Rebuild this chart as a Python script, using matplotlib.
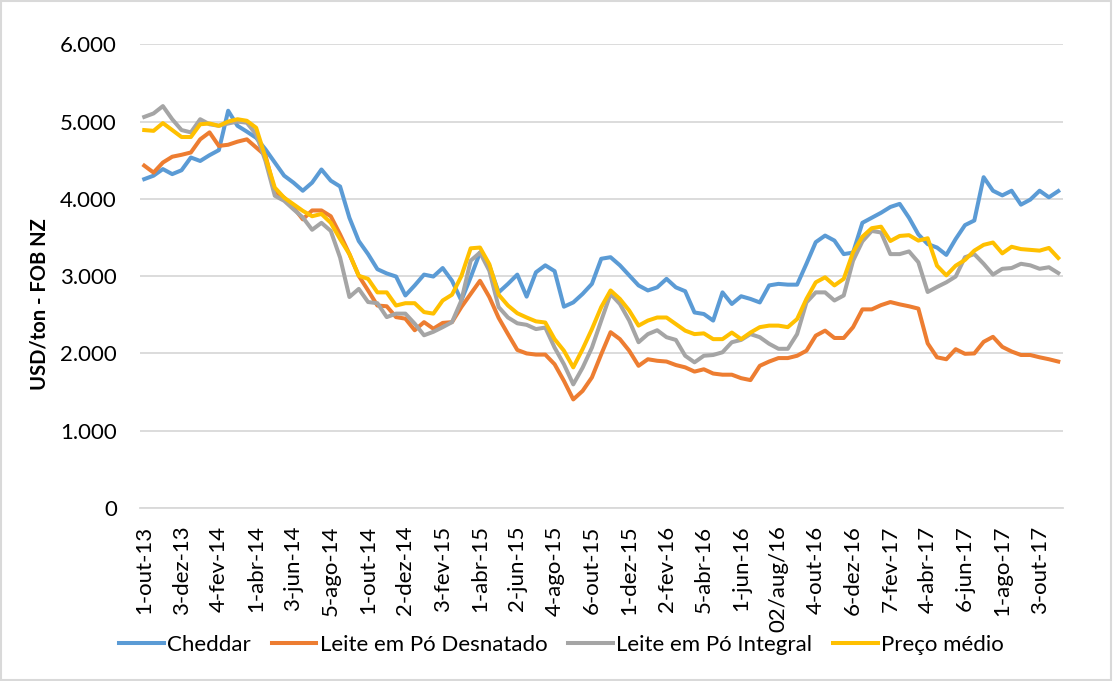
import numpy as np
import matplotlib.pyplot as plt
from matplotlib.patches import Rectangle
from matplotlib.ticker import FuncFormatter

# GDT auction prices, USD/ton FOB NZ
cheddar = [
    4255, 4300, 4385, 4320, 4370, 4535, 4490, 4565, 4630, 5140,
    4945, 4870, 4790, 4640, 4470, 4300, 4210, 4105, 4210, 4380,
    4235, 4160, 3755, 3455, 3285, 3090, 3035, 2995, 2750, 2880,
    3020, 2995, 3105, 2940, 2685, 2985, 3305, 3135, 2790, 2900,
    3020, 2735, 3050, 3140, 3065, 2605, 2660, 2770, 2900, 3225,
    3245, 3140, 3010, 2880, 2815, 2855, 2965, 2855, 2805, 2530,
    2510, 2425, 2790, 2640, 2740, 2705, 2660, 2880, 2900, 2890,
    2890, 3160, 3440, 3525, 3460, 3285, 3305, 3690, 3755, 3820,
    3895, 3935, 3755, 3540, 3415, 3370, 3275, 3480, 3660, 3720,
    4280, 4105, 4045, 4105, 3925, 3990, 4105, 4020, 4100,
]
desnatado = [
    4430, 4340, 4470, 4545, 4570, 4600, 4770, 4860, 4685, 4700,
    4740, 4770, 4665, 4560, 4100, 4015, 3890, 3735, 3850, 3850,
    3775, 3540, 3285, 3005, 2815, 2620, 2610, 2470, 2450, 2300,
    2405, 2320, 2395, 2405, 2600, 2770, 2940, 2730, 2460, 2250,
    2045, 2000, 1985, 1985, 1860, 1645, 1405, 1515, 1690, 1990,
    2275, 2185, 2035, 1840, 1925, 1905, 1895, 1850, 1820, 1765,
    1795, 1740, 1725, 1725, 1680, 1655, 1840, 1895, 1940, 1940,
    1970, 2035, 2230, 2295, 2200, 2200, 2340, 2570, 2570, 2625,
    2665, 2635, 2610, 2580, 2130, 1950, 1925, 2055, 1995, 2000,
    2150, 2215, 2085, 2025, 1980, 1980, 1950, 1925, 1895,
]
integral = [
    5060, 5105, 5200, 5030, 4890, 4860, 5030, 4965, 4945, 4975,
    5000, 4985, 4835, 4490, 4040, 3975, 3865, 3760, 3600, 3690,
    3585, 3240, 2730, 2835, 2665, 2650, 2470, 2515, 2515, 2385,
    2235, 2280, 2340, 2405, 2685, 3200, 3305, 3070, 2600, 2465,
    2390, 2370, 2315, 2335, 2075, 1860, 1600, 1815, 2075, 2425,
    2770, 2640, 2425, 2145, 2250, 2300, 2210, 2175, 1970, 1885,
    1970, 1980, 2015, 2145, 2175, 2250, 2210, 2125, 2060, 2060,
    2250, 2660, 2790, 2790, 2685, 2750, 3200, 3450, 3585, 3565,
    3285, 3285, 3320, 3180, 2795, 2860, 2920, 2995, 3245, 3285,
    3160, 3020, 3095, 3105, 3160, 3140, 3095, 3115, 3040,
]
preco_medio = [
    4890, 4880, 4980, 4890, 4800, 4800, 4965, 4975, 4945, 5000,
    5030, 5010, 4920, 4535, 4145, 4015, 3930, 3845, 3775, 3805,
    3690, 3480, 3285, 3005, 2965, 2790, 2790, 2620, 2650, 2650,
    2535, 2515, 2685, 2760, 3000, 3360, 3370, 3155, 2760, 2620,
    2520, 2465, 2415, 2400, 2185, 2035, 1820, 2055, 2315, 2600,
    2815, 2705, 2555, 2360, 2425, 2465, 2465, 2380, 2295, 2250,
    2260, 2185, 2185, 2270, 2185, 2270, 2340, 2360, 2360, 2340,
    2445, 2705, 2920, 2985, 2880, 2965, 3310, 3510, 3620, 3640,
    3455, 3520, 3530, 3460, 3490, 3135, 3010, 3135, 3210, 3330,
    3405, 3435, 3295, 3380, 3350, 3340, 3330, 3365, 3235,
]

# one label every 4 auctions
tick_labels = [
    "1-out-13", "3-dez-13", "4-fev-14", "1-abr-14", "3-jun-14", "5-ago-14",
    "1-out-14", "2-dez-14", "3-fev-15", "1-abr-15", "2-jun-15", "4-ago-15",
    "6-out-15", "1-dez-15", "2-fev-16", "5-abr-16", "1-jun-16", "02/aug/16",
    "4-out-16", "6-dez-16", "7-fev-17", "4-abr-17", "6-jun-17", "1-ago-17",
    "3-out-17",
]

series = [
    ("Cheddar", cheddar, "#5B9BD5"),
    ("Leite em Pó Desnatado", desnatado, "#ED7D31"),
    ("Leite em Pó Integral", integral, "#A5A5A5"),
    ("Preço médio", preco_medio, "#FFC000"),
]

plt.rcParams["font.family"] = ["Lato", "DejaVu Sans"]
grid_color = "#D9D9D9"

fig = plt.figure(figsize=(11.13, 6.81), dpi=100)
ax = fig.add_axes([0.1254, 0.254, 0.8296, 0.681])

x = np.arange(len(cheddar))
for name, values, color in series:
    ax.plot(x, values, color=color, lw=2.9, label=name, solid_joinstyle="round")

ax.set_xlim(-0.5, len(cheddar) - 0.5)
ax.set_ylim(0, 6000)
ax.set_yticks(np.arange(0, 6001, 1000))
ax.yaxis.set_major_formatter(
    FuncFormatter(lambda v, _: f"{int(v):,}".replace(",", "."))
)
ax.set_xticks(x[::4])
ax.set_xticklabels(tick_labels, rotation=90, va="top", ha="center")

ax.grid(axis="y", color=grid_color, lw=1.3)
ax.set_axisbelow(True)
for side in ["top", "right", "left"]:
    ax.spines[side].set_visible(False)
ax.spines["bottom"].set_color(grid_color)
ax.spines["bottom"].set_linewidth(1.3)
ax.tick_params(axis="both", length=0, labelsize=16, colors="black")
ax.tick_params(axis="x", pad=12.5)
ax.tick_params(axis="y", pad=16.3)

ax.set_ylabel("USD/ton - FOB NZ", fontsize=14.5, fontweight="bold")
ax.yaxis.set_label_coords(-0.098, 0.44)

ax.legend(
    loc="center", bbox_to_anchor=(0.5045, 0.053), bbox_transform=fig.transFigure,
    ncol=4, frameon=False, fontsize=16, handlelength=2.0, handletextpad=0.15,
    columnspacing=0.95,
)

# light chart-area border
fig.patches.append(
    Rectangle((0.001, 0.001), 0.997, 0.997, transform=fig.transFigure,
              fill=False, edgecolor=grid_color, lw=1.5)
)

fig.savefig("out.png", dpi=100)
